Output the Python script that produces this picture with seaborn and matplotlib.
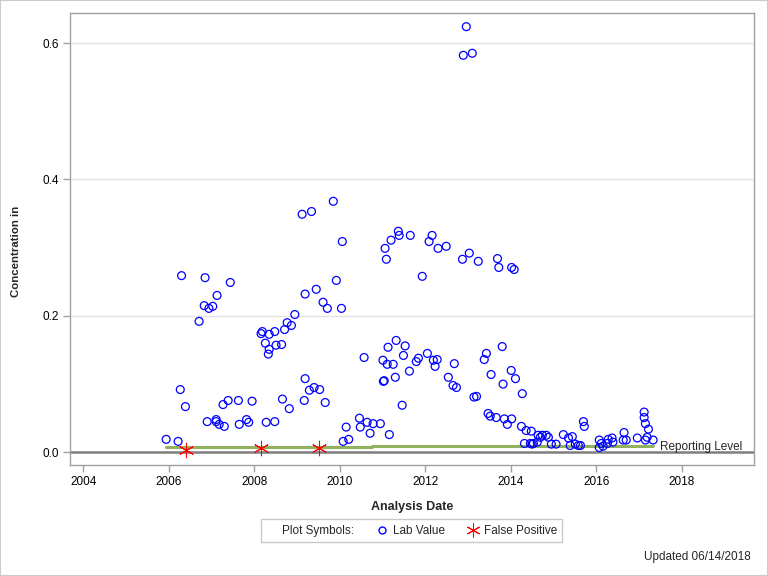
import matplotlib
matplotlib.use('Agg')
import pandas as pd
import seaborn as sns
import matplotlib.pyplot as plt
from matplotlib.lines import Line2D
from matplotlib.patches import Rectangle

# lab values (decimal year, concentration)
lab_date = [2005.94, 2006.22, 2006.27, 2006.30, 2006.39, 2006.71, 2006.83, 2006.85, 2006.90, 2006.94,
            2007.03, 2007.11, 2007.11, 2007.13, 2007.18, 2007.27, 2007.30, 2007.39, 2007.44, 2007.63, 2007.65, 2007.82, 2007.87, 2007.95,
            2008.16, 2008.19, 2008.26, 2008.28, 2008.33, 2008.35, 2008.35, 2008.48, 2008.48, 2008.51, 2008.64, 2008.66, 2008.71, 2008.77, 2008.82, 2008.87, 2008.95,
            2009.12, 2009.17, 2009.19, 2009.19, 2009.29, 2009.34, 2009.40, 2009.45, 2009.53, 2009.61, 2009.66, 2009.71, 2009.85, 2009.92,
            2010.04, 2010.06, 2010.08, 2010.15, 2010.21, 2010.46, 2010.48, 2010.57, 2010.64, 2010.71, 2010.78, 2010.95,
            2011.01, 2011.02, 2011.04, 2011.06, 2011.09, 2011.11, 2011.13, 2011.16, 2011.20, 2011.25, 2011.30, 2011.32, 2011.37, 2011.39, 2011.46, 2011.49, 2011.53, 2011.63, 2011.65, 2011.79, 2011.84, 2011.93,
            2012.05, 2012.09, 2012.16, 2012.19, 2012.23, 2012.28, 2012.30, 2012.49, 2012.54, 2012.65, 2012.68, 2012.73, 2012.87, 2012.89, 2012.96,
            2013.03, 2013.10, 2013.14, 2013.20, 2013.24, 2013.38, 2013.43, 2013.47, 2013.52, 2013.54, 2013.66, 2013.69, 2013.72, 2013.80, 2013.82, 2013.85, 2013.92,
            2014.01, 2014.02, 2014.02, 2014.08, 2014.11, 2014.25, 2014.27, 2014.32, 2014.36, 2014.46, 2014.48, 2014.50, 2014.53, 2014.62, 2014.64, 2014.69, 2014.74, 2014.83, 2014.88, 2014.95,
            2015.06, 2015.23, 2015.35, 2015.39, 2015.44, 2015.51, 2015.58, 2015.63, 2015.70, 2015.72,
            2016.07, 2016.07, 2016.12, 2016.16, 2016.26, 2016.28, 2016.37, 2016.39, 2016.63, 2016.65, 2016.70, 2016.96,
            2017.12, 2017.12, 2017.15, 2017.15, 2017.19, 2017.22, 2017.33]
lab_value = [0.019, 0.016, 0.092, 0.259, 0.067, 0.192, 0.215, 0.256, 0.045, 0.211,
             0.214, 0.048, 0.045, 0.230, 0.041, 0.070, 0.038, 0.076, 0.249, 0.076, 0.041, 0.048, 0.044, 0.075,
             0.174, 0.177, 0.160, 0.044, 0.144, 0.151, 0.173, 0.177, 0.045, 0.157, 0.158, 0.078, 0.180, 0.190, 0.064, 0.186, 0.202,
             0.349, 0.076, 0.108, 0.232, 0.091, 0.353, 0.095, 0.239, 0.092, 0.220, 0.073, 0.211, 0.368, 0.252,
             0.211, 0.309, 0.016, 0.037, 0.019, 0.050, 0.037, 0.139, 0.044, 0.028, 0.042, 0.042,
             0.135, 0.104, 0.105, 0.299, 0.283, 0.129, 0.154, 0.026, 0.311, 0.129, 0.110, 0.164, 0.324, 0.318, 0.069, 0.142, 0.156, 0.119, 0.318, 0.133, 0.138, 0.258,
             0.145, 0.309, 0.318, 0.135, 0.126, 0.136, 0.299, 0.302, 0.110, 0.098, 0.130, 0.095, 0.283, 0.582, 0.624,
             0.292, 0.585, 0.081, 0.082, 0.280, 0.136, 0.145, 0.057, 0.053, 0.114, 0.051, 0.284, 0.271, 0.155, 0.100, 0.049, 0.041,
             0.120, 0.049, 0.271, 0.268, 0.108, 0.038, 0.086, 0.013, 0.032, 0.013, 0.031, 0.012, 0.013, 0.015, 0.025, 0.022, 0.025, 0.025, 0.022, 0.012,
             0.012, 0.026, 0.021, 0.010, 0.023, 0.012, 0.010, 0.010, 0.045, 0.038,
             0.018, 0.007, 0.013, 0.009, 0.013, 0.019, 0.021, 0.015, 0.018, 0.029, 0.018, 0.021,
             0.059, 0.051, 0.042, 0.018, 0.022, 0.034, 0.018]

# false positives
fp_date = [2006.41, 2008.16, 2009.52]
fp_value = [0.004, 0.007, 0.007]

# reporting level (steps up a little late 2010)
rl_date = [2005.94, 2010.75, 2010.75, 2017.33]
rl_value = [0.0075, 0.0075, 0.0088, 0.0088]

x_ticks = [2004, 2006, 2008, 2010, 2012, 2014, 2016, 2018]
y_ticks = [0.0, 0.2, 0.4, 0.6]

lab = pd.DataFrame({'date': lab_date, 'value': lab_value})
fp = pd.DataFrame({'date': fp_date, 'value': fp_value})

sns.set_style('white')
plt.rcParams['font.family'] = ['Liberation Sans', 'DejaVu Sans']

fig = plt.figure(figsize=(7.68, 5.76), dpi=100)
ax = fig.add_axes([0.0911, 0.1927, 0.8907, 0.7847])

ax.axhline(0, color='#7f7f7f', lw=1.8, zorder=1)
ax.plot(rl_date, rl_value, color='#92b15c', lw=2.2, zorder=2)
sns.scatterplot(data=lab, x='date', y='value', ax=ax, marker='o', s=32,
                facecolors='none', edgecolor='blue', linewidth=0.9, zorder=3, legend=False)
sns.scatterplot(data=fp, x='date', y='value', ax=ax, marker=(6, 2, 0), s=110,
                color='red', linewidth=0.75, zorder=4, legend=False)
ax.text(2017.49, 0.008, 'Reporting Level', va='center', ha='left', fontsize=8.5)

ax.set_xlim(2003.69, 2019.69)
ax.set_ylim(-0.0186, 0.644)
ax.set_xticks(x_ticks)
ax.set_xticklabels([str(t) for t in x_ticks])
ax.set_yticks(y_ticks)
ax.set_yticklabels(['%.1f' % t for t in y_ticks])
ax.yaxis.grid(True, color='#e4e4e4', lw=1)
ax.set_axisbelow(True)
for s in ax.spines.values():
    s.set_color('#a0a0a0')
    s.set_linewidth(1)
ax.tick_params(bottom=True, left=True, direction='out', length=5, width=1,
               color='#a0a0a0', labelsize=8.5, labelcolor='black', pad=3)

ax.set_xlabel('Analysis Date', fontweight='bold', fontsize=9, labelpad=9)
ax.set_ylabel('Concentration in', fontweight='bold', fontsize=8.2)
ax.yaxis.set_label_coords(-0.0716, 0.473)

# legend strip below the axis
h_blank = Line2D([], [], linestyle='none')
h_lab = Line2D([], [], marker='o', linestyle='none', mfc='none', mec='blue', markersize=5, mew=1)
h_fp = Line2D([], [], marker=(6, 2, 0), linestyle='none', color='red', markersize=10, mew=0.75)
leg = fig.legend([h_blank, h_lab, h_fp], ['Plot Symbols:', 'Lab Value', 'False Positive'],
                 ncol=3, loc='center', bbox_to_anchor=(0.536, 0.0786), fontsize=8.5,
                 frameon=True, fancybox=False, edgecolor='#c8c8c8', framealpha=1,
                 handlelength=0.8, handletextpad=0.5, columnspacing=2.0, borderpad=0.45)
leg.get_frame().set_linewidth(1)

fig.text(0.977, 0.0335, 'Updated 06/14/2018', ha='right', va='center', fontsize=8.5)
fig.patches.append(Rectangle((0, 0), 1, 1, transform=fig.transFigure, fill=False,
                             edgecolor='#cccccc', lw=1.5))

fig.savefig('out.png', dpi=100)
